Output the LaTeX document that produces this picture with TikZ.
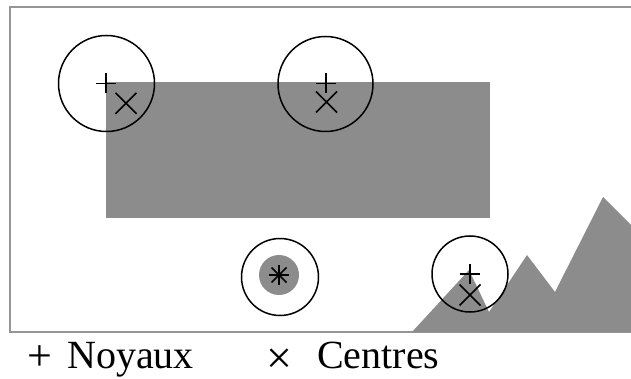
\documentclass[tikz,border=0pt]{standalone}
\usepackage{fontspec}
\setmainfont{Liberation Serif}
\usetikzlibrary{calc}
\definecolor{fillgray}{RGB}{140,140,140}
\definecolor{framegray}{RGB}{150,150,150}
\tikzset{
  ring/.style={circle, draw=black, line width=1.5pt, inner sep=0pt},
  disc/.style={circle, fill=fillgray, inner sep=0pt},
  markline/.style={line width=1.5pt, black},
  legend/.style={anchor=base west, inner sep=0pt, font=\fontsize{40}{48}\selectfont},
}
\newcommand{\plusmark}[1]{\draw[markline] ($(#1)+(-10,0)$) -- ($(#1)+(10,0)$) ($(#1)+(0,-10)$) -- ($(#1)+(0,10)$);}
\newcommand{\crossmark}[1]{\draw[markline] ($(#1)+(-10.5,-10.5)$) -- ($(#1)+(10.5,10.5)$) ($(#1)+(-10.5,10.5)$) -- ($(#1)+(10.5,-10.5)$);}
\begin{document}
\begin{tikzpicture}[x=1pt, y=-1pt]
\useasboundingbox (0,0) rectangle (631,379);
% frame
\draw[framegray, line width=1.8pt] (632,7) -- (10,7) -- (10,332) -- (632,332);
% gray rectangle
\fill[fillgray] (106,82.5) rectangle (489.5,218.5);
% mountains
\fill[fillgray] (412,332) -- (469,270) -- (489,312) -- (527,255) -- (555,292) -- (603,197) -- (631,225) -- (631,332) -- cycle;
% small disc
\node[disc, minimum size=40pt] (d3) at (279,275) {};
% circles
\node[ring, minimum size=96pt] (c1) at (106.5,83.5) {};
\node[ring, minimum size=95pt] (c2) at (325.5,84) {};
\node[ring, minimum size=77pt] (c3) at (280,277) {};
\node[ring, minimum size=76pt] (c4) at (470,274) {};
% marker positions
\coordinate (p1) at (106,83.5);
\coordinate (x1) at (126,103.3);
\coordinate (p2) at (326,83.3);
\coordinate (x2) at (326.5,102);
\coordinate (p3) at (279,275);
\coordinate (p4) at (470,274);
\coordinate (x4) at (470,295);
\plusmark{p1}
\crossmark{x1}
\plusmark{p2}
\crossmark{x2}
\plusmark{p3}
\draw[markline] ($(p3)+(-7.5,-7.5)$) -- ($(p3)+(7.5,7.5)$) ($(p3)+(-7.5,7.5)$) -- ($(p3)+(7.5,-7.5)$);
\plusmark{p4}
\crossmark{x4}
% legend
\node[legend, font=\fontsize{44}{48}\selectfont] (lp) at (27,370) {+};
\node[legend] (ln) at (67,368) {Noyaux};
\node[legend, font=\fontsize{46}{48}\selectfont] (lx) at (266,373) {×};
\node[legend] (lc) at (317,368) {Centres};
\end{tikzpicture}
\end{document}
